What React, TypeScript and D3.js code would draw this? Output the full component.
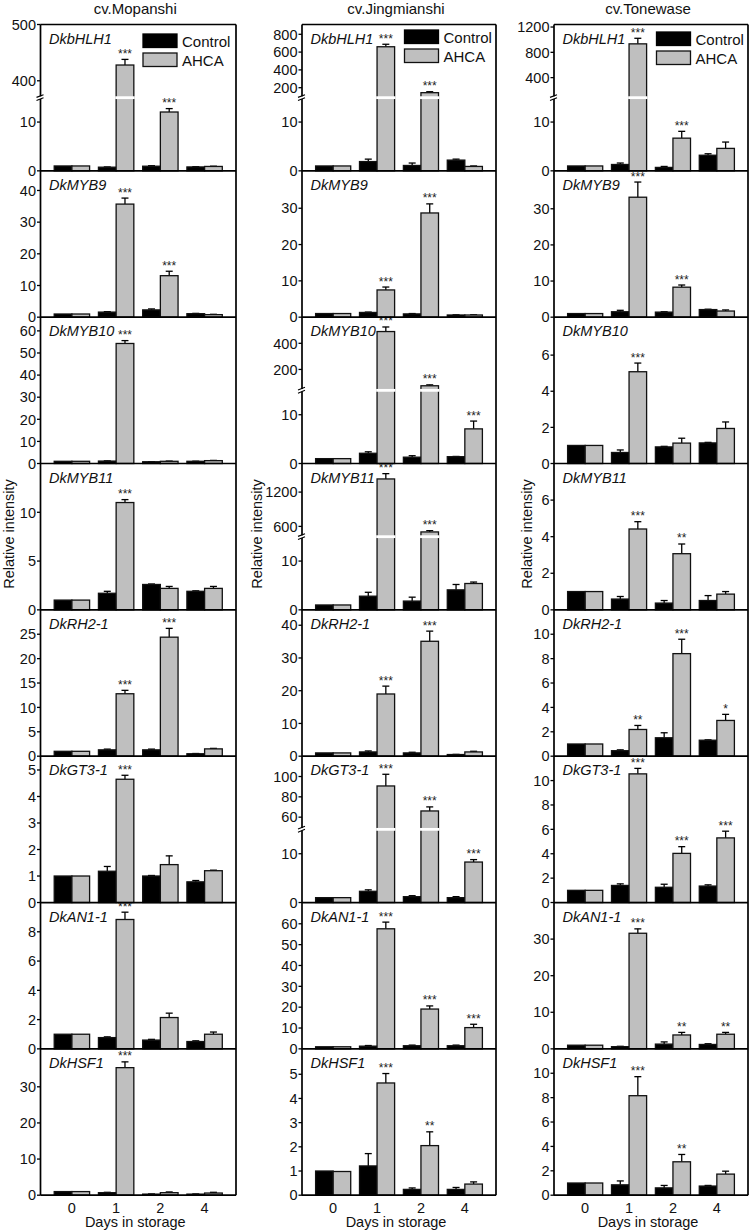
import React from "react";
import * as d3 from "d3";

const days = ["0", "1", "2", "4"];
const genes = ["DkbHLH1", "DkMYB9", "DkMYB10", "DkMYB11", "DkRH2-1", "DkGT3-1", "DkAN1-1", "DkHSF1"];
const cultivars = ["cv.Mopanshi", "cv.Jingmianshi", "cv.Tonewase"];
const seriesNames = ["Control", "AHCA"];

// ---------- cv.Mopanshi ----------
const mopanshiControl = [
  [1.0, 0.75, 0.95, 0.8],
  [1.0, 1.6, 2.3, 1.1],
  [1.0, 1.1, 0.8, 1.0],
  [1.0, 1.7, 2.6, 1.9],
  [1.0, 1.3, 1.3, 0.5],
  [1.0, 1.18, 1.0, 0.78],
  [1.0, 0.77, 0.6, 0.5],
  [1.0, 0.7, 0.3, 0.3],
];
const mopanshiControlErr = [
  [0, 0.05, 0.1, 0.05],
  [0, 0.15, 0.3, 0.1],
  [0, 0.1, 0.05, 0.05],
  [0, 0.2, 0.05, 0.05],
  [0, 0.15, 0.15, 0.05],
  [0, 0.18, 0.02, 0.05],
  [0, 0.05, 0.05, 0.05],
  [0, 0.1, 0.05, 0.05],
];
const mopanshiAhca = [
  [1.0, 428, 12.06, 0.9],
  [1.0, 35.7, 13.1, 0.8],
  [1.0, 54.3, 1.0, 1.3],
  [1.0, 11.0, 2.2, 2.2],
  [1.0, 12.8, 24.4, 1.5],
  [1.0, 4.65, 1.43, 1.2],
  [1.0, 8.84, 2.14, 1.0],
  [1.0, 35.3, 0.7, 0.6],
];
const mopanshiAhcaErr = [
  [0, 10, 0.7, 0.05],
  [0, 1.9, 1.4, 0.1],
  [0, 1.3, 0.1, 0.1],
  [0, 0.3, 0.2, 0.2],
  [0, 0.7, 1.8, 0.1],
  [0, 0.15, 0.33, 0.02],
  [0, 0.5, 0.3, 0.15],
  [0, 1.6, 0.2, 0.2],
];
const mopanshiSig = [
  ["", "***", "***", ""],
  ["", "***", "***", ""],
  ["", "***", "", ""],
  ["", "***", "", ""],
  ["", "***", "***", ""],
  ["", "***", "", ""],
  ["", "***", "", ""],
  ["", "***", "", ""],
];
const mopanshiYMax = [15, 46.2, 66.2, 15, 30, 5.52, 10, 40.5];
const mopanshiTicks = [
  [0, 10],
  [0, 10, 20, 30, 40],
  [0, 10, 20, 30, 40, 50, 60],
  [0, 5, 10],
  [0, 5, 10, 15, 20, 25],
  [0, 1, 2, 3, 4, 5],
  [0, 2, 4, 6, 8],
  [0, 10, 20, 30],
];
const mopanshiUpper = [[370, 500], null, null, null, null, null, null, null];
const mopanshiUpperTicks = [[400, 500], [], [], [], [], [], [], []];

// ---------- cv.Jingmianshi ----------
const jingmianshiControl = [
  [1.0, 1.9, 1.1, 2.2],
  [1.0, 1.3, 0.9, 0.6],
  [1.0, 2.1, 1.3, 1.4],
  [1.0, 2.8, 1.8, 4.1],
  [1.0, 1.3, 1.0, 0.5],
  [1.0, 2.3, 1.2, 1.0],
  [1.0, 1.3, 1.5, 1.5],
  [1.0, 1.21, 0.24, 0.24],
];
const jingmianshiControlErr = [
  [0, 0.5, 0.5, 0.2],
  [0, 0.1, 0.1, 0.05],
  [0, 0.3, 0.3, 0.05],
  [0, 0.8, 0.8, 1.1],
  [0, 0.3, 0.2, 0.05],
  [0, 0.3, 0.2, 0.2],
  [0, 0.3, 0.3, 0.3],
  [0, 0.51, 0.06, 0.08],
];
const jingmianshiAhca = [
  [1.0, 660, 144, 0.9],
  [1.0, 7.5, 28.7, 0.6],
  [1.0, 490, 75, 7.1],
  [1.0, 1430, 503, 5.4],
  [1.0, 19.0, 35.1, 1.3],
  [1.0, 90.7, 66.1, 8.3],
  [1.0, 57.6, 19.1, 10.2],
  [0.98, 4.64, 2.05, 0.46],
];
const jingmianshiAhcaErr = [
  [0, 28, 11, 0.1],
  [0, 0.8, 2.5, 0.05],
  [0, 35, 7, 1.6],
  [0, 93, 23, 0.3],
  [0, 2.4, 3.1, 0.2],
  [0, 11.5, 4, 0.5],
  [0, 3.2, 1.5, 1.6],
  [0, 0.39, 0.57, 0.09],
];
const jingmianshiSig = [
  ["", "***", "***", ""],
  ["", "***", "***", ""],
  ["", "***", "***", "***"],
  ["", "***", "***", ""],
  ["", "***", "***", ""],
  ["", "***", "***", "***"],
  ["", "***", "***", "***"],
  ["", "***", "**", ""],
];
const jingmianshiYMax = [15, 40.3, 15, 15, 44.7, 15, 70.2, 6.05];
const jingmianshiTicks = [
  [0, 10],
  [0, 10, 20, 30],
  [0, 10],
  [0, 10],
  [0, 10, 20, 30, 40],
  [0, 10],
  [0, 10, 20, 30, 40, 50, 60],
  [0, 1, 2, 3, 4, 5],
];
const jingmianshiUpper = [[88, 910], null, [40, 600], [420, 1700], null, [48, 120], null, null];
const jingmianshiUpperTicks = [[200, 400, 600, 800], [], [200, 400], [600, 1200], [], [60, 80, 100], [], []];

// ---------- cv.Tonewase ----------
const tonewaseControl = [
  [1.0, 1.3, 0.7, 3.2],
  [1.0, 1.5, 1.4, 2.1],
  [1.0, 0.61, 0.92, 1.14],
  [1.0, 0.59, 0.37, 0.51],
  [1.0, 0.45, 1.51, 1.31],
  [1.0, 1.4, 1.25, 1.35],
  [1.0, 0.6, 1.3, 1.2],
  [1.0, 0.85, 0.6, 0.75],
];
const tonewaseControlErr = [
  [0, 0.3, 0.2, 0.3],
  [0, 0.4, 0.1, 0.1],
  [0, 0.14, 0.03, 0.03],
  [0, 0.14, 0.14, 0.27],
  [0, 0.07, 0.41, 0.03],
  [0, 0.13, 0.25, 0.1],
  [0, 0.1, 0.6, 0.2],
  [0, 0.32, 0.2, 0.05],
];
const tonewaseAhca = [
  [1.0, 934, 6.7, 4.6],
  [1.0, 33.2, 8.3, 1.7],
  [1.0, 5.08, 1.13, 1.94],
  [1.0, 4.42, 3.07, 0.86],
  [1.0, 2.19, 8.41, 2.93],
  [1.0, 10.55, 4.03, 5.3],
  [1.0, 31.6, 3.8, 4.0],
  [1.0, 8.16, 2.74, 1.73],
];
const tonewaseAhcaErr = [
  [0, 88, 1.4, 1.3],
  [0, 4.2, 0.6, 0.3],
  [0, 0.48, 0.27, 0.36],
  [0, 0.4, 0.53, 0.14],
  [0, 0.33, 1.18, 0.5],
  [0, 0.45, 0.55, 0.55],
  [0, 1.2, 0.7, 0.5],
  [0, 1.56, 0.6, 0.24],
];
const tonewaseSig = [
  ["", "***", "***", ""],
  ["", "***", "***", ""],
  ["", "***", "", ""],
  ["", "***", "**", ""],
  ["", "**", "***", "*"],
  ["", "***", "***", "***"],
  ["", "***", "**", "**"],
  ["", "***", "**", ""],
];
const tonewaseYMax = [15, 40.5, 8.1, 8.0, 12, 12, 40, 12];
const tonewaseTicks = [
  [0, 10],
  [0, 10, 20, 30],
  [0, 2, 4, 6],
  [0, 2, 4, 6],
  [0, 2, 4, 6, 8, 10],
  [0, 2, 4, 6, 8, 10],
  [0, 10, 20, 30],
  [0, 2, 4, 6, 8, 10],
];
const tonewaseUpper = [[83, 1240], null, null, null, null, null, null, null];
const tonewaseUpperTicks = [[400, 800, 1200], [], [], [], [], [], [], []];

const BREAK_AT = 15;

const columns = [
  { control: mopanshiControl, controlErr: mopanshiControlErr, ahca: mopanshiAhca, ahcaErr: mopanshiAhcaErr, sig: mopanshiSig, yMax: mopanshiYMax, ticks: mopanshiTicks, upper: mopanshiUpper, upperTicks: mopanshiUpperTicks },
  { control: jingmianshiControl, controlErr: jingmianshiControlErr, ahca: jingmianshiAhca, ahcaErr: jingmianshiAhcaErr, sig: jingmianshiSig, yMax: jingmianshiYMax, ticks: jingmianshiTicks, upper: jingmianshiUpper, upperTicks: jingmianshiUpperTicks },
  { control: tonewaseControl, controlErr: tonewaseControlErr, ahca: tonewaseAhca, ahcaErr: tonewaseAhcaErr, sig: tonewaseSig, yMax: tonewaseYMax, ticks: tonewaseTicks, upper: tonewaseUpper, upperTicks: tonewaseUpperTicks },
];

// ---------- layout ----------
const W = 752;
const H = 1231;
const COLX = [
  { L: 40.5, R: 236 },
  { L: 302, R: 496 },
  { L: 554, R: 748 },
];
const TOP = 24.5;
const BOTTOM = 1195.2;
const PH = (BOTTOM - TOP) / genes.length;
const FONT = "'Liberation Sans', Arial, Helvetica, sans-serif";
const GRAY = "#bfbfbf";
const legendDy = [9.5, 5.5, 7.5];
const yLabelDx = [26.5, 40, 22.5];

function Panel({ c, r }: { c: number; r: number }) {
  const col = columns[c];
  const { L, R } = COLX[c];
  const top = TOP + r * PH;
  const bottom = top + PH;
  const x = d3.scaleBand<string>().domain(days).range([L, R]).paddingInner(0.2).paddingOuter(0.31);
  const bw = x.bandwidth() / 2;
  const up = col.upper[r];
  const broken = up != null;
  const breakY = bottom - PH / 2;
  const lower = d3
    .scaleLinear()
    .domain([0, broken ? BREAK_AT : col.yMax[r]])
    .range([bottom, broken ? breakY : top]);
  const upper = broken ? d3.scaleLinear().domain(up as number[]).range([breakY, top]) : null;
  const y = (v: number) => (broken && v > BREAK_AT ? (upper as any)(Math.max(v, (up as number[])[0])) : lower(v));

  const bars: any[] = [];
  days.forEach((d, i) => {
    const series = [
      { v: col.control[r][i], e: col.controlErr[r][i], fill: "#000", x0: x(d) as number },
      { v: col.ahca[r][i], e: col.ahcaErr[r][i], fill: GRAY, x0: (x(d) as number) + bw },
    ];
    series.forEach((s, k) => {
      const yt = y(s.v);
      const cx = s.x0 + bw / 2;
      if (s.e > 0) {
        const ye = y(s.v + s.e);
        bars.push(
          <g key={`e${i}${k}`} stroke="#000" strokeWidth={1.3}>
            <line x1={cx} x2={cx} y1={yt} y2={ye} />
            <line x1={cx - 3.5} x2={cx + 3.5} y1={ye} y2={ye} />
          </g>
        );
      }
      bars.push(
        <rect key={`b${i}${k}`} x={s.x0} y={yt} width={bw} height={bottom - yt} fill={s.fill} stroke="#111" strokeWidth={1.3} />
      );
      if (broken && s.v > BREAK_AT) {
        bars.push(<rect key={`g${i}${k}`} x={s.x0 - 0.9} y={breakY - 1.4} width={bw + 1.8} height={2.8} fill="#fff" />);
      }
      if (k === 1 && col.sig[r][i]) {
        const ys = y(s.v + s.e) - 1.5;
        bars.push(
          <text key={`s${i}`} x={cx} y={ys} textAnchor="middle" fontSize={12} fontFamily={FONT} fill="#222">
            {col.sig[r][i]}
          </text>
        );
      }
    });
  });

  const tickEls: any[] = [];
  const addTick = (t: number, yy: number, key: string) => {
    tickEls.push(
      <g key={key}>
        <line x1={L - 3.5} x2={L} y1={yy} y2={yy} stroke="#000" strokeWidth={1.3} />
        <text x={L - 4.5} y={yy} dy="0.36em" textAnchor="end" fontSize={14.5} fontFamily={FONT} fill="#111">
          {t}
        </text>
      </g>
    );
  };
  col.ticks[r].forEach((t) => addTick(t, lower(t), `t${t}`));
  if (broken) col.upperTicks[r].forEach((t) => addTick(t, (upper as any)(t), `u${t}`));

  return (
    <g>
      {bars}
      {tickEls}
      <text x={L + 8.5} y={top + 19} fontSize={14.5} fontStyle="italic" fontFamily={FONT} fill="#111">
        {genes[r]}
      </text>
    </g>
  );
}

function Column({ c }: { c: number }) {
  const { L, R } = COLX[c];
  const x = d3.scaleBand<string>().domain(days).range([L, R]).paddingInner(0.2).paddingOuter(0.31);
  const center = (L + R) / 2;
  const lx = L + 102.5;
  const ly = TOP + legendDy[c];
  return (
    <g>
      <text x={center - 3} y={13.5} textAnchor="middle" fontSize={15} fontFamily={FONT} fill="#111">
        {cultivars[c]}
      </text>
      {genes.map((g, r) => (
        <Panel key={g} c={c} r={r} />
      ))}
      {/* separators and frame */}
      {genes.slice(1).map((g, r) => (
        <line key={`sep${g}`} x1={L} x2={R} y1={TOP + (r + 1) * PH} y2={TOP + (r + 1) * PH} stroke="#000" strokeWidth={1.7} />
      ))}
      <line x1={L} x2={R} y1={TOP} y2={TOP} stroke="#000" strokeWidth={1.7} />
      <line x1={L} x2={R} y1={BOTTOM} y2={BOTTOM} stroke="#000" strokeWidth={1.7} />
      <line x1={R} x2={R} y1={TOP} y2={BOTTOM} stroke="#000" strokeWidth={1.7} />
      <line x1={L} x2={L} y1={TOP} y2={BOTTOM} stroke="#000" strokeWidth={1.7} />
      {/* break marks over the axis line */}
      {genes.map((g, r) => {
        if (columns[c].upper[r] == null) return null;
        const by = TOP + r * PH + PH / 2;
        return (
          <g key={`bk${g}`}>
            <rect x={L - 2} y={by - 1.3} width={4} height={2.6} fill="#fff" />
            <line x1={L - 4} y1={by - 0.3} x2={L + 3} y2={by - 3} stroke="#000" strokeWidth={1.1} />
            <line x1={L - 4} y1={by + 2.8} x2={L + 3} y2={by} stroke="#000" strokeWidth={1.1} />
          </g>
        );
      })}
      {/* legend */}
      <rect x={lx} y={ly} width={34} height={13.5} fill="#000" stroke="#000" strokeWidth={1.3} />
      <text x={lx + 39} y={ly + 12.5} fontSize={15} fontFamily={FONT} fill="#111">
        {seriesNames[0]}
      </text>
      <rect x={lx} y={ly + 19} width={34} height={13.5} fill={GRAY} stroke="#111" strokeWidth={1.3} />
      <text x={lx + 39} y={ly + 31.5} fontSize={15} fontFamily={FONT} fill="#111">
        {seriesNames[1]}
      </text>
      {/* x axis labels */}
      {days.map((d) => (
        <text key={`x${d}`} x={(x(d) as number) + x.bandwidth() / 2} y={1213} textAnchor="middle" fontSize={14.5} fontFamily={FONT} fill="#111">
          {d}
        </text>
      ))}
      <text x={center - 3} y={1227} textAnchor="middle" fontSize={14.5} fontFamily={FONT} fill="#111">
        Days in storage
      </text>
      <text
        transform={`translate(${L - yLabelDx[c]},534) rotate(-90)`}
        textAnchor="middle"
        fontSize={14.5}
        fontFamily={FONT}
        fill="#111"
      >
        Relative intensity
      </text>
    </g>
  );
}

export default function App() {
  return (
    <svg width={W} height={H} style={{ position: "absolute", left: 0, top: 0, background: "#fff" }}>
      <rect x={0} y={0} width={W} height={H} fill="#fff" />
      {cultivars.map((cv, c) => (
        <Column key={cv} c={c} />
      ))}
    </svg>
  );
}
